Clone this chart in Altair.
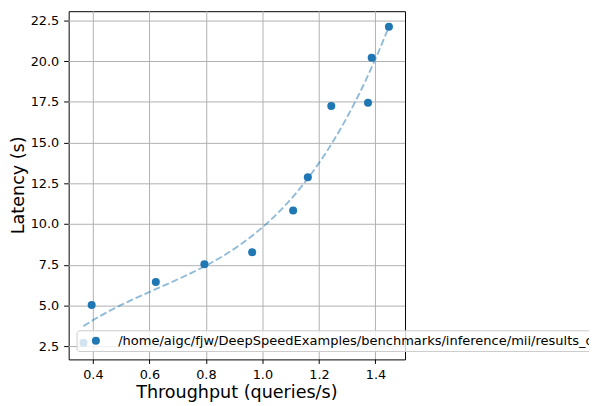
import altair as alt
import pandas as pd

throughput = [0.365, 0.394, 0.621, 0.793, 0.962, 1.107, 1.159, 1.242, 1.372, 1.385, 1.446]
latency = [2.74, 5.06, 6.47, 7.56, 8.30, 10.86, 12.90, 17.28, 17.48, 20.24, 22.14]
series_name = "/home/aigc/fjw/DeepSpeedExamples/benchmarks/inference/mii/results_qwen/"
x_ticks = [0.4, 0.6, 0.8, 1.0, 1.2, 1.4]
y_ticks = [2.5, 5.0, 7.5, 10.0, 12.5, 15.0, 17.5, 20.0, 22.5]

df = pd.DataFrame({"tp": throughput, "lat": latency, "series": series_name})

BLUE = "#1f77b4"
FONT = "DejaVu Sans"

xscale = alt.Scale(domain=[0.3126, 1.503], nice=False, zero=False)
yscale = alt.Scale(domain=[1.72, 23.1], nice=False, zero=False)

xax = alt.Axis(values=x_ticks, format=".1f", title="Throughput (queries/s)",
               titlePadding=2, labelPadding=5.3)
yax = alt.Axis(values=y_ticks, format=".1f", title="Latency (s)",
               titlePadding=3, labelPadding=5)

base = alt.Chart(df)

fit = base.transform_regression("tp", "lat", method="poly", order=3).mark_line(
    color=BLUE, opacity=0.5, strokeWidth=1.9, strokeDash=[7, 3]
).encode(
    x=alt.X("tp:Q", scale=xscale, axis=xax),
    y=alt.Y("lat:Q", scale=yscale, axis=yax),
)

pts = base.mark_circle(size=66, opacity=1).encode(
    x=alt.X("tp:Q", scale=xscale, axis=xax),
    y=alt.Y("lat:Q", scale=yscale, axis=yax),
    color=alt.Color(
        "series:N",
        scale=alt.Scale(range=[BLUE]),
        legend=alt.Legend(
            title=None, orient="none", legendX=8, legendY=323.5,
            fillColor="rgba(255,255,255,0.8)", strokeColor="#cccccc",
            cornerRadius=3, padding=4, symbolOffset=9, labelOffset=16,
            symbolType="circle", symbolSize=66, labelLimit=3000,
            labelFont=FONT, labelFontSize=13.2, labelColor="#000000",
        ),
    ),
)

chart = alt.layer(fit, pts).properties(
    width=341, height=353,
    autosize=alt.AutoSizeParams(type="none"),
    padding={"left": 61.5, "top": 0.5, "right": 186.5, "bottom": 45},
).configure_view(
    stroke="#000000", strokeWidth=1
).configure_axis(
    translate=0, domain=False, grid=True, gridColor="#b0b0b0", gridWidth=1,
    tickColor="#000000", tickSize=4.6, tickWidth=1,
    labelFont=FONT, labelFontSize=13, labelColor="#000000",
    titleFont=FONT, titleFontSize=17.8, titleFontWeight="normal", titleColor="#000000",
)

chart.save("out.html", embed_options={"renderer": "svg", "actions": False})
